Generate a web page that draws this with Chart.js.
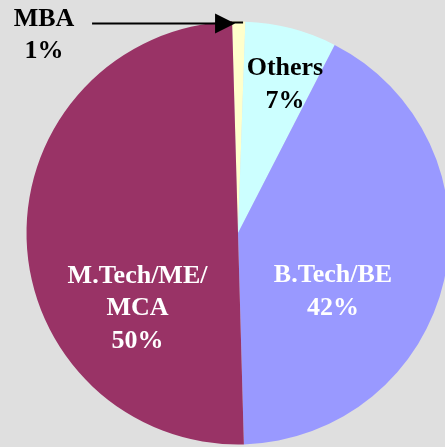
<!DOCTYPE html>
<html>
<head>
<meta charset="utf-8">
<script src="https://cdn.jsdelivr.net/npm/chart.js@4/dist/chart.umd.min.js"></script>
<style>
  html, body { margin: 0; padding: 0; background: #dfdfdf; overflow: hidden; }
  #wrap { width: 445px; height: 447px; overflow: hidden; position: relative; }
  canvas { position: absolute; left: 0; top: 0; }
</style>
</head>
<body>
<div id="wrap"><canvas id="pie" width="460" height="460"></canvas></div>
<script>
// slice order follows the reference, clockwise from 12 o'clock
const categories = ['MBA', 'Others', 'B.Tech/BE', 'M.Tech/ME/MCA'];
const shares = [1, 7, 42, 50];
const labelLines = [['MBA', '1%'], ['Others', '7%'], ['B.Tech/BE', '42%'], ['M.Tech/ME/', 'MCA', '50%']];
const sliceColors = ['#ffffcc', '#ccffff', '#9999ff', '#993366'];
const textColors = ['#000000', '#000000', '#ffffff', '#ffffff'];
// label anchors as fractions of the radius from the pie centre
const labelOffsets = [[-0.917, -0.979], [0.222, -0.747], [0.449, 0.232], [-0.475, 0.236]];

const sliceLabels = {
  id: 'sliceLabels',
  afterDraw(chart) {
    const ctx = chart.ctx;
    const arc = chart.getDatasetMeta(0).data[0];
    const cx = arc.x, cy = arc.y, r = arc.outerRadius;
    ctx.save();
    ctx.font = 'bold 26px "Liberation Serif", "Times New Roman", serif';
    ctx.textAlign = 'center';
    ctx.textBaseline = 'alphabetic';
    labelLines.forEach((lines, i) => {
      const x = cx + labelOffsets[i][0] * r;
      const y = cy + labelOffsets[i][1] * r;
      ctx.fillStyle = textColors[i];
      lines.forEach((t, j) => ctx.fillText(t, x, y + j * 32.5));
    });

    // arrow pointing from the MBA label to its slice
    const ay = cy - 0.99 * r;
    const tipX = cx - 0.014 * r;
    ctx.strokeStyle = '#000';
    ctx.fillStyle = '#000';
    ctx.lineWidth = 2;
    ctx.beginPath();
    ctx.moveTo(cx - 0.69 * r, ay);
    ctx.lineTo(tipX - 15, ay);
    ctx.stroke();
    ctx.beginPath();
    ctx.moveTo(tipX - 20, ay - 10);
    ctx.lineTo(tipX, ay);
    ctx.lineTo(tipX - 20, ay + 10);
    ctx.closePath();
    ctx.fill();
    ctx.beginPath();
    ctx.moveTo(tipX - 4, cy - r + 1);
    ctx.lineTo(cx + 0.024 * r, cy - r + 1);
    ctx.stroke();
    ctx.restore();
  }
};

new Chart(document.getElementById('pie'), {
  type: 'pie',
  data: {
    labels: categories,
    datasets: [{
      data: shares,
      backgroundColor: sliceColors,
      borderWidth: 0
    }]
  },
  options: {
    responsive: false,
    animation: false,
    rotation: -1.6,
    layout: { padding: { left: 26.5, right: 10.5, top: 21.5, bottom: 15.5 } },
    plugins: {
      legend: { display: false },
      tooltip: { enabled: false }
    }
  },
  plugins: [sliceLabels]
});
</script>
</body>
</html>
